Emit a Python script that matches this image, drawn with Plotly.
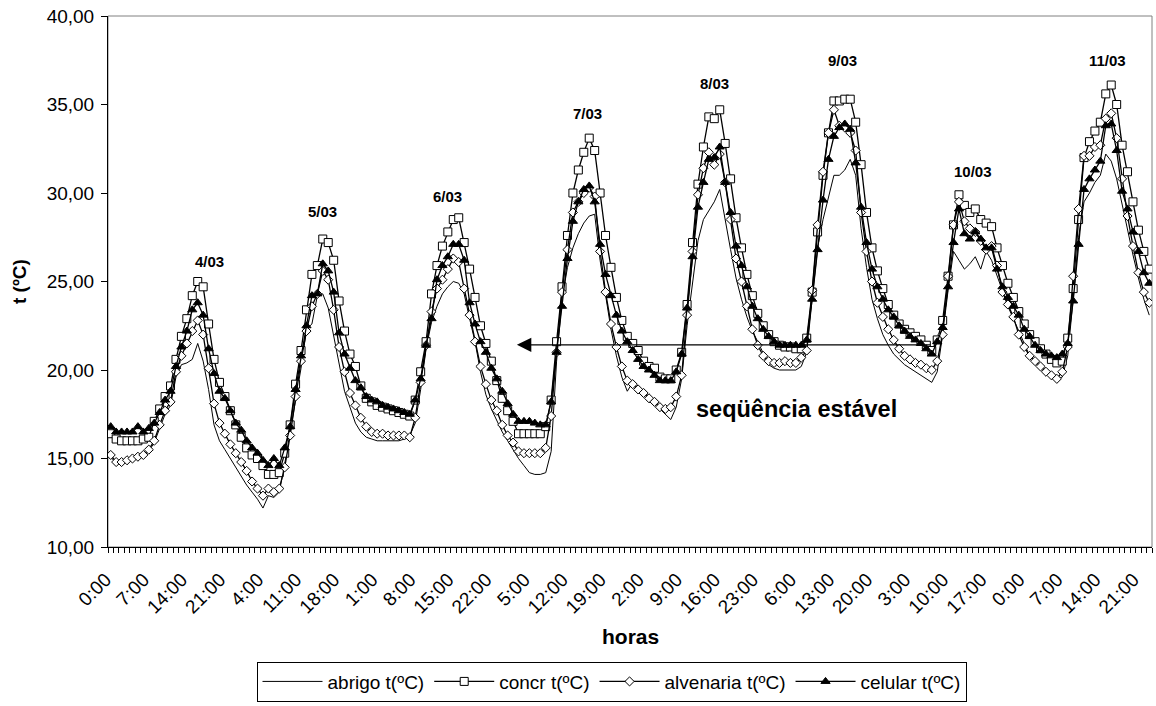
import plotly.graph_objects as go

# ---------------- data (hourly, 4/03 0:00 ... 11/03 23:00) ----------------
abrigo = [
    15.1, 14.7, 14.7, 14.8, 14.9, 15.0, 15.1, 15.4, 15.9, 16.7, 17.5, 18.0, 19.6, 20.3, 20.4, 20.6, 21.5, 20.5, 18.9, 16.9, 16.0, 15.5, 15.0, 14.5,
    14.0, 13.5, 13.1, 12.7, 12.2, 12.9, 12.8, 13.1, 14.7, 16.5, 18.4, 20.1, 22.3, 22.6, 24.2, 24.3, 23.5, 21.9, 20.2, 18.8, 17.9, 17.0, 16.5, 16.2,
    16.1, 16.0, 16.0, 16.0, 16.0, 16.0, 16.1, 16.3, 17.0, 18.9, 21.2, 22.7, 23.6, 24.3, 24.7, 25.0, 24.9, 24.3, 22.9, 21.6, 19.9, 18.6, 17.8, 17.1,
    16.5, 16.0, 15.5, 15.0, 14.6, 14.2, 14.1, 14.1, 14.2, 15.4, 20.5, 24.0, 25.8, 26.9, 27.7, 28.3, 28.7, 28.8, 26.2, 24.3, 22.3, 20.8, 19.6, 18.8,
    19.3, 19.1, 18.8, 18.5, 18.2, 17.8, 17.5, 17.2, 17.9, 19.5, 22.5, 25.0, 27.3, 28.5, 29.0, 29.5, 30.2, 28.4, 26.8, 25.2, 24.0, 23.0, 22.2, 21.6,
    20.9, 20.3, 20.1, 20.0, 20.0, 20.0, 20.0, 20.2, 21.0, 24.0, 26.9, 28.5, 29.8, 31.0, 31.0, 31.3, 31.9, 31.0, 28.0, 25.8, 24.0, 22.9, 22.0, 21.4,
    20.9, 20.6, 20.3, 20.1, 19.9, 19.7, 19.5, 19.3, 19.9, 22.0, 24.5, 26.7, 26.2, 25.7, 26.0, 26.4, 25.7, 26.7, 26.2, 25.3, 24.4, 23.6, 22.9, 22.2,
    21.4, 20.8, 20.5, 20.2, 19.9, 19.7, 19.5, 19.6, 20.8, 24.0, 27.5, 29.5, 30.0, 30.6, 31.0, 32.2, 31.8, 30.8, 29.3, 28.0, 26.5, 25.2, 24.0, 23.1,
]
concr = [
    16.4, 16.1, 16.0, 16.0, 16.0, 16.0, 16.1, 16.2, 17.1, 17.8, 18.5, 19.1, 20.6, 21.9, 22.9, 24.2, 25.0, 24.7, 22.6, 20.6, 19.3, 18.5, 17.7, 16.9,
    16.2, 15.6, 15.2, 15.0, 14.6, 14.1, 14.1, 14.2, 15.3, 16.9, 19.2, 21.1, 23.4, 25.4, 25.9, 27.4, 27.2, 26.2, 23.9, 22.2, 20.9, 20.2, 19.1, 18.4,
    18.2, 18.0, 17.9, 17.8, 17.7, 17.6, 17.5, 17.4, 18.3, 19.9, 21.6, 24.3, 25.9, 27.0, 27.8, 28.5, 28.6, 27.2, 25.7, 24.1, 22.5, 21.5, 20.5, 19.4,
    18.4, 17.7, 17.1, 16.4, 16.4, 16.4, 16.4, 16.4, 16.8, 18.3, 21.6, 24.7, 27.6, 30.0, 31.3, 32.3, 33.1, 32.4, 30.0, 27.6, 25.8, 24.1, 22.8, 21.9,
    21.5, 21.1, 20.5, 20.2, 20.1, 19.6, 19.5, 19.5, 20.0, 21.0, 23.7, 27.2, 30.5, 32.6, 34.3, 34.2, 34.7, 32.8, 30.8, 28.6, 26.9, 25.4, 24.2, 23.2,
    22.5, 22.0, 21.6, 21.4, 21.3, 21.3, 21.2, 21.2, 21.8, 24.4, 27.8, 31.0, 33.4, 35.2, 35.2, 35.3, 35.3, 34.0, 31.6, 28.9, 26.9, 25.6, 24.6, 23.7,
    23.1, 22.6, 22.3, 22.1, 21.9, 21.7, 21.4, 21.1, 21.7, 22.8, 25.3, 28.2, 29.9, 29.3, 28.9, 29.1, 28.5, 28.3, 28.1, 26.9, 25.9, 24.9, 24.1, 23.3,
    22.6, 22.0, 21.6, 21.2, 20.9, 20.6, 20.4, 20.5, 21.8, 24.6, 28.5, 32.0, 32.9, 33.5, 34.0, 35.6, 36.1, 35.0, 32.7, 31.2, 29.5, 27.9, 26.7, 25.7,
]
alvenaria = [
    15.2, 14.8, 14.8, 14.9, 15.0, 15.1, 15.2, 15.5, 16.0, 16.9, 17.7, 18.2, 19.9, 20.8, 21.5, 22.2, 22.8, 22.0, 20.1, 18.1, 17.0, 16.4, 15.8, 15.3,
    14.8, 14.3, 13.7, 13.3, 12.9, 13.3, 13.1, 13.3, 14.5, 16.3, 18.5, 20.5, 22.2, 23.6, 24.3, 25.6, 25.1, 23.4, 21.3, 19.9, 18.7, 18.0, 17.3, 16.8,
    16.5, 16.4, 16.4, 16.3, 16.3, 16.3, 16.3, 16.2, 17.3, 19.3, 21.4, 23.3, 24.6, 25.1, 25.7, 26.3, 26.1, 24.6, 23.1, 21.6, 20.2, 19.2, 18.3, 17.7,
    16.9, 16.3, 15.9, 15.4, 15.3, 15.3, 15.3, 15.3, 15.6, 17.4, 21.0, 24.4, 26.8, 28.9, 29.5, 30.0, 30.3, 29.8, 26.7, 24.4, 22.6, 21.3, 20.2, 19.4,
    19.2, 18.9, 18.7, 18.4, 18.2, 17.9, 17.8, 17.9, 18.5, 19.7, 23.1, 26.7, 29.9, 31.4, 32.3, 31.6, 32.2, 30.6, 28.5, 26.3, 25.0, 23.6, 22.3, 21.4,
    20.8, 20.5, 20.4, 20.4, 20.5, 20.4, 20.4, 20.7, 21.1, 24.5, 28.2, 31.2, 33.4, 34.7, 33.8, 33.7, 33.4, 32.4, 28.9, 26.7, 25.0, 23.8, 23.0, 22.3,
    21.7, 21.2, 20.8, 20.6, 20.4, 20.3, 20.1, 20.0, 20.5, 22.0, 25.3, 28.2, 29.5, 28.4, 28.0, 27.8, 27.3, 26.8, 27.0, 25.9, 24.4, 23.7, 23.0, 22.0,
    21.3, 20.8, 20.5, 20.2, 19.9, 19.7, 19.5, 19.9, 21.3, 25.3, 29.1, 32.1, 32.1, 32.6, 32.7, 34.2, 34.5, 33.1, 30.8, 28.7, 27.0, 25.5, 24.4, 23.8,
]
celular = [
    16.8, 16.5, 16.5, 16.5, 16.5, 16.8, 16.5, 16.7, 17.0, 17.6, 18.3, 18.8, 20.2, 21.3, 22.2, 23.4, 23.8, 23.1, 21.2, 19.8, 18.8, 18.4, 17.7, 17.0,
    16.6, 16.0, 15.6, 15.3, 14.9, 14.6, 15.0, 14.6, 15.6, 16.8, 18.9, 20.8, 22.5, 24.2, 24.3, 26.0, 25.6, 24.4, 22.1, 20.9, 20.1, 19.4, 19.0, 18.5,
    18.3, 18.2, 18.0, 17.9, 17.8, 17.7, 17.6, 17.5, 18.3, 19.5, 21.4, 22.9, 25.1, 25.9, 26.4, 27.1, 27.1, 26.2, 23.8, 22.6, 21.6, 21.0, 20.1, 19.5,
    18.8, 18.1, 17.5, 17.1, 17.1, 17.1, 17.0, 16.9, 16.9, 18.2, 21.0, 23.6, 26.3, 28.4, 29.5, 30.2, 30.4, 29.5, 27.1, 25.4, 24.2, 23.1, 22.2, 21.6,
    21.1, 20.6, 20.2, 20.0, 19.7, 19.4, 19.4, 19.4, 19.9, 20.9, 23.5, 26.4, 29.2, 30.6, 31.9, 32.0, 32.6, 30.6, 28.9, 27.0, 25.9, 24.7, 23.6, 22.9,
    22.3, 21.9, 21.6, 21.4, 21.4, 21.4, 21.4, 21.4, 21.7, 24.0, 26.8, 29.6, 31.9, 33.2, 33.7, 33.9, 33.6, 31.7, 29.2, 27.2, 25.7, 24.7, 24.0, 23.4,
    23.0, 22.5, 22.2, 21.9, 21.7, 21.5, 21.2, 20.9, 21.6, 22.4, 24.7, 27.2, 29.1, 27.7, 27.4, 27.8, 27.4, 26.9, 26.9, 25.7, 24.7, 24.1, 23.6, 23.1,
    22.3, 21.9, 21.4, 21.1, 20.9, 20.8, 20.7, 20.9, 21.5, 23.9, 27.1, 30.2, 30.8, 31.3, 31.8, 33.8, 33.9, 32.4, 30.1, 29.1, 27.8, 26.7, 25.5, 24.9,
]

tick_labels = ["0:00", "7:00", "14:00", "21:00", "4:00", "11:00", "18:00", "1:00", "8:00", "15:00",
               "22:00", "5:00", "12:00", "19:00", "2:00", "9:00", "16:00", "23:00", "6:00", "13:00",
               "20:00", "3:00", "10:00", "17:00", "0:00", "7:00", "14:00", "21:00"]
tick_step = 7

day_labels = ["4/03", "5/03", "6/03", "7/03", "8/03", "9/03", "10/03", "11/03"]
day_label_x = [18.2, 39.0, 62.0, 87.6, 111.0, 134.5, 158.6, 183.4]
day_label_y = [26.15, 28.96, 29.8, 34.5, 36.2, 37.5, 31.2, 37.5]

series_names = ["abrigo t(ºC)", "concr t(ºC)", "alvenaria t(ºC)", "celular t(ºC)"]

# ---------------- figure ----------------
n = len(concr)
x = list(range(n))
FONT = "Liberation Sans, Arial, sans-serif"

fig = go.Figure()
fig.add_trace(go.Scatter(x=x, y=abrigo, name=series_names[0], mode="lines",
                         line=dict(color="black", width=1)))
fig.add_trace(go.Scatter(x=x, y=concr, name=series_names[1], mode="lines+markers",
                         line=dict(color="black", width=1.3),
                         marker=dict(symbol="square", size=8, color="white",
                                     line=dict(color="black", width=1))))
fig.add_trace(go.Scatter(x=x, y=alvenaria, name=series_names[2], mode="lines+markers",
                         line=dict(color="black", width=1.3),
                         marker=dict(symbol="diamond", size=7, color="white",
                                     line=dict(color="black", width=1))))
fig.add_trace(go.Scatter(x=x, y=celular, name=series_names[3], mode="lines+markers",
                         line=dict(color="black", width=1.3),
                         marker=dict(symbol="triangle-up", size=8, color="black",
                                     line=dict(color="black", width=1))))

W, H = 1156, 706
L, R, T, B = 108, 4, 16, 157
pw, ph = W - L - R, H - T - B


def px_x(px):
    return (px - L) / pw


def px_y(py):
    return (H - B - py) / ph


annotations = []
for t, ax_, ay_ in zip(day_labels, day_label_x, day_label_y):
    annotations.append(dict(x=ax_, y=ay_, xref="x", yref="y", text="<b>%s</b>" % t,
                            showarrow=False, font=dict(family=FONT, size=15, color="black")))

# arrow "seqüência estável"
annotations.append(dict(x=74.7, y=21.42, ax=151.0, ay=21.42, xref="x", yref="y",
                        axref="x", ayref="y", text="", showarrow=True,
                        arrowhead=2, arrowsize=2.4, arrowwidth=1.2, arrowcolor="black"))
annotations.append(dict(x=126.1, y=17.82, xref="x", yref="y", text="<b>seqüência estável</b>",
                        showarrow=False, font=dict(family=FONT, size=23.5, color="black")))
# axis titles
annotations.append(dict(x=px_x(630), y=px_y(639), xref="paper", yref="paper",
                        xanchor="center", yanchor="middle", text="<b>horas</b>",
                        showarrow=False, font=dict(family=FONT, size=21, color="black")))
annotations.append(dict(x=px_x(20), y=px_y(283), xref="paper", yref="paper",
                        xanchor="center", yanchor="middle", text="<b>t (ºC)</b>",
                        showarrow=False, textangle=-90,
                        font=dict(family=FONT, size=19, color="black")))

fig.update_layout(
    width=W, height=H, autosize=False,
    margin=dict(l=L, r=R, t=T, b=B, pad=0),
    paper_bgcolor="white", plot_bgcolor="white",
    separators=",.",
    font=dict(family=FONT, size=19, color="black"),
    showlegend=True,
    legend=dict(orientation="h", x=px_x(611.5), xanchor="center", y=px_y(664), yanchor="top",
                bordercolor="black", borderwidth=1, bgcolor="white",
                font=dict(family=FONT, size=19, color="black"), itemwidth=60,
                tracegroupgap=0),
    annotations=annotations,
    shapes=[dict(type="rect", xref="paper", yref="paper", x0=0, x1=1, y0=0, y1=1,
                 line=dict(color="#808080", width=1), layer="below")],
)

fig.update_yaxes(range=[10, 40], tickmode="linear", tick0=10, dtick=5, tickformat=".2f",
                 showgrid=False, zeroline=False, showline=True, linecolor="black", linewidth=1,
                 ticks="outside", ticklen=6, tickcolor="black", tickwidth=1,
                 ticklabelstandoff=3,
                 tickfont=dict(family=FONT, size=19, color="black"))
fig.update_xaxes(range=[-0.5, n - 0.5], tickmode="array",
                 tickvals=list(range(0, n, tick_step))[:len(tick_labels)], ticktext=tick_labels,
                 tickangle=-45, showgrid=False, zeroline=False, showline=True,
                 linecolor="black", linewidth=1, ticks="outside", ticklen=0, tickcolor="black",
                 ticklabelstandoff=13, ticklabelshift=-5,
                 tickfont=dict(family=FONT, size=19, color="black"),
                 minor=dict(tickmode="linear", tick0=-0.5, dtick=1, ticks="outside",
                            ticklen=5, tickcolor="black", tickwidth=1, showgrid=False))

fig.write_html("out.html")
